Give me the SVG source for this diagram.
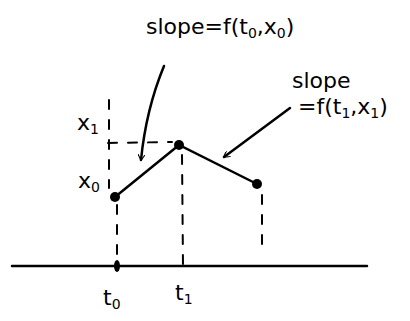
<svg xmlns="http://www.w3.org/2000/svg" width="410" height="321" viewBox="0 0 410 321">
<style>
.ln{stroke:#000;stroke-width:2.5;fill:none;stroke-linecap:round}
.ds{stroke:#000;stroke-width:2;fill:none;stroke-dasharray:9 11;stroke-linecap:round}
.t{font-family:"Comic Sans MS","DejaVu Sans",sans-serif;font-size:22px;fill:#000}
</style>
<defs>
<marker id="ah" viewBox="0 0 10 10" refX="8" refY="5" markerWidth="7" markerHeight="7" orient="auto-start-reverse" markerUnits="userSpaceOnUse">
<path d="M0,0 L9,5 L0,10" fill="none" stroke="#000" stroke-width="1.6"/>
</marker>
</defs>
<rect width="410" height="321" fill="#fff"/>
<g id="axis"><line class="ln" x1="12" y1="266" x2="367" y2="266"/></g>
<g id="connectors">
<line class="ds" x1="109" y1="100" x2="109" y2="188"/>
<line class="ds" x1="117" y1="205" x2="117" y2="266"/>
<line class="ds" x1="108" y1="143" x2="172" y2="142"/>
<line class="ds" x1="182" y1="155" x2="183" y2="266"/>
<line class="ds" x1="262" y1="195" x2="262" y2="255"/>
<polyline class="ln" points="115,197 179,145 257,184"/>
<path class="ln" d="M164,66 C152,95 144,130 141,160" marker-end="url(#ah)"/>
<path class="ln" d="M290,108 L224,157" marker-end="url(#ah)"/>
</g>
<g id="points">
<circle cx="115" cy="197" r="5"/>
<circle cx="179" cy="145" r="5"/>
<circle cx="257" cy="184" r="5"/>
<ellipse cx="117" cy="266" rx="3" ry="6"/>
</g>
<g id="labels">
<text class="t" x="146" y="34">slope=f(t<tspan font-size="14" dy="4">0</tspan><tspan dy="-4">,x</tspan><tspan font-size="14" dy="4">0</tspan><tspan dy="-4">)</tspan></text>
<text class="t" x="292" y="88">slope</text>
<text class="t" x="298" y="114">=f(t<tspan font-size="14" dy="4">1</tspan><tspan dy="-4">,x</tspan><tspan font-size="14" dy="4">1</tspan><tspan dy="-4">)</tspan></text>
<text class="t" x="77" y="130">x<tspan font-size="14" dy="4">1</tspan></text>
<text class="t" x="78" y="188">x<tspan font-size="14" dy="4">0</tspan></text>
<text class="t" x="103" y="305">t<tspan font-size="14" dy="4">0</tspan></text>
<text class="t" x="175" y="300">t<tspan font-size="14" dy="4">1</tspan></text>
</g>
</svg>
